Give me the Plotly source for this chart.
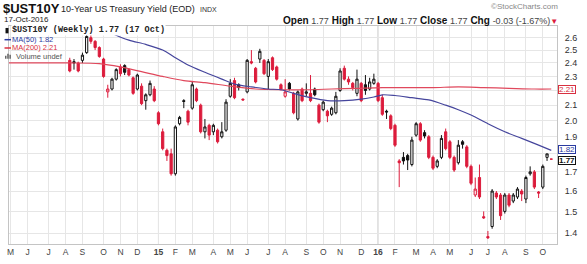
import plotly.graph_objects as go
import pandas as pd
import numpy as np

W, H = 587, 264
ML, MR, MT, MB = 7, 30, 26, 15
PW, PH = W - ML - MR, H - MT - MB

# ---------------- data (weekly bars) ----------------
first_bar = "2014-08-11"
opens = [2.42, 2.41, 2.40, 2.42, 2.48, 2.60, 2.57, 2.52, 2.43, 2.19,
         2.21, 2.28, 2.37, 2.38, 2.35, 2.29, 2.21, 2.23, 2.13, 2.17,
         2.21, 2.05, 1.93, 1.82, 1.80, 1.69, 1.98, 2.13, 2.06, 2.08,
         2.21, 2.10, 1.93, 1.97, 1.93, 1.94, 1.90, 1.94, 2.16, 2.27,
         2.24, 2.14, 2.19, 2.41, 2.36, 2.43, 2.42, 2.30, 2.44, 2.37,
         2.24, 2.16, 2.25, 2.18, 2.01, 2.21, 2.18, 2.18, 2.21, 2.10,
         2.07, 2.06, 2.04, 2.05, 2.20, 2.36, 2.28, 2.25, 2.18, 2.25,
         2.24, 2.21, 2.25, 2.25, 2.15, 2.06, 2.03, 1.97, 1.76, 1.78,
         1.79, 1.74, 1.91, 1.98, 1.925, 1.90, 1.78, 1.73, 1.78, 1.93,
         1.87, 1.78, 1.75, 1.87, 1.84, 1.73, 1.58, 1.67, 1.475, 1.385,
         1.43, 1.59, 1.58, 1.50, 1.58, 1.55, 1.57, 1.60, 1.56, 1.69,
         1.70, 1.595, 1.62, 1.78, 1.77]
highs = [2.44, 2.43, 2.41, 2.48, 2.63, 2.64, 2.58, 2.53, 2.44, 2.24,
         2.29, 2.36, 2.39, 2.39, 2.36, 2.30, 2.32, 2.25, 2.18, 2.27,
         2.23, 2.06, 1.95, 1.83, 1.83, 1.97, 2.03, 2.14, 2.07, 2.26,
         2.22, 2.11, 2.01, 1.98, 1.98, 1.95, 1.99, 2.14, 2.28, 2.29,
         2.25, 2.145, 2.43, 2.50, 2.37, 2.51, 2.43, 2.43, 2.45, 2.38,
         2.25, 2.28, 2.26, 2.19, 2.20, 2.22, 2.25, 2.31, 2.22, 2.11,
         2.13, 2.07, 2.09, 2.19, 2.36, 2.38, 2.30, 2.26, 2.35, 2.26,
         2.31, 2.29, 2.32, 2.26, 2.17, 2.07, 2.04, 1.98, 1.77, 1.81,
         1.80, 1.90, 1.99, 1.99, 1.94, 1.91, 1.79, 1.77, 1.91, 1.95,
         1.88, 1.79, 1.88, 1.88, 1.85, 1.74, 1.67, 1.74, 1.50, 1.41,
         1.61, 1.60, 1.59, 1.59, 1.59, 1.59, 1.62, 1.61, 1.68, 1.73,
         1.71, 1.60, 1.74, 1.80, 1.77]
lows = [2.33, 2.35, 2.33, 2.40, 2.47, 2.55, 2.50, 2.44, 2.29, 2.15,
        2.20, 2.27, 2.30, 2.31, 2.30, 2.17, 2.20, 2.10, 2.07, 2.16,
        2.12, 1.97, 1.82, 1.76, 1.68, 1.68, 1.97, 2.08, 1.97, 2.07,
        2.12, 1.92, 1.89, 1.88, 1.91, 1.86, 1.89, 1.93, 2.15, 2.14,
        2.20, 2.13, 2.18, 2.39, 2.25, 2.40, 2.31, 2.21, 2.34, 2.27,
        2.20, 2.15, 2.20, 2.04, 2.00, 2.12, 2.16, 2.12, 2.16, 1.98,
        2.06, 1.99, 2.03, 2.04, 2.19, 2.27, 2.24, 2.20, 2.16, 2.12,
        2.17, 2.20, 2.24, 2.12, 2.03, 2.01, 1.94, 1.84, 1.62, 1.74,
        1.71, 1.73, 1.90, 1.87, 1.89, 1.77, 1.71, 1.72, 1.77, 1.82,
        1.77, 1.70, 1.74, 1.83, 1.72, 1.63, 1.57, 1.56, 1.465, 1.375,
        1.42, 1.56, 1.46, 1.49, 1.52, 1.54, 1.56, 1.55, 1.54, 1.68,
        1.61, 1.565, 1.61, 1.76, 1.77]
closes = [2.34, 2.40, 2.34, 2.46, 2.61, 2.57, 2.52, 2.45, 2.30, 2.21,
          2.28, 2.35, 2.32, 2.33, 2.31, 2.18, 2.31, 2.11, 2.17, 2.25,
          2.13, 1.98, 1.83, 1.79, 1.69, 1.96, 2.02, 2.125, 1.99, 2.24,
          2.13, 1.93, 1.96, 1.91, 1.97, 1.87, 1.93, 2.12, 2.25, 2.15,
          2.22, 2.135, 2.42, 2.40, 2.26, 2.49, 2.32, 2.41, 2.35, 2.28,
          2.21, 2.19, 2.21, 2.05, 2.19, 2.13, 2.19, 2.13, 2.17, 1.99,
          2.12, 2.03, 2.08, 2.16, 2.34, 2.28, 2.26, 2.22, 2.28, 2.13,
          2.20, 2.26, 2.28, 2.13, 2.04, 2.055, 1.95, 1.85, 1.75, 1.76,
          1.765, 1.88, 1.98, 1.88, 1.905, 1.78, 1.72, 1.76, 1.89, 1.83,
          1.78, 1.71, 1.85, 1.855, 1.73, 1.64, 1.61, 1.57, 1.47, 1.38,
          1.60, 1.57, 1.48, 1.58, 1.53, 1.58, 1.61, 1.585, 1.67, 1.70,
          1.62, 1.59, 1.73, 1.80, 1.77]

ma50_dates = ["2014-10-06", "2014-10-20", "2014-11-17", "2014-12-15", "2015-01-12",
              "2015-02-02", "2015-02-23", "2015-03-23", "2015-04-20", "2015-05-11",
              "2015-06-08", "2015-07-06", "2015-07-27", "2015-08-17", "2015-09-14",
              "2015-10-12", "2015-11-09", "2015-12-07", "2015-12-28", "2016-01-11",
              "2016-02-01", "2016-02-29", "2016-03-28", "2016-04-25", "2016-05-16",
              "2016-06-06", "2016-07-04", "2016-08-01", "2016-08-29", "2016-09-26",
              "2016-10-17"]
ma50_vals = [2.67, 2.635, 2.58, 2.545, 2.50, 2.44, 2.385, 2.33, 2.28, 2.245,
             2.225, 2.21, 2.205, 2.18, 2.15, 2.13, 2.13, 2.14, 2.155, 2.17,
             2.165, 2.15, 2.135, 2.10, 2.07, 2.035, 1.98, 1.93, 1.89, 1.85, 1.82]

ma200_dates = ["2014-05-02", "2014-06-23", "2014-08-11", "2014-09-29", "2014-11-03",
               "2014-12-08", "2015-01-12", "2015-02-16", "2015-03-23", "2015-05-04",
               "2015-06-15", "2015-07-27", "2015-09-07", "2015-10-19", "2015-11-30",
               "2016-01-11", "2016-02-22", "2016-04-04", "2016-05-16", "2016-06-27",
               "2016-08-08", "2016-09-19", "2016-10-17"]
ma200_vals = [2.40, 2.40, 2.40, 2.395, 2.37, 2.335, 2.30, 2.27, 2.255, 2.23,
              2.21, 2.205, 2.205, 2.21, 2.215, 2.22, 2.22, 2.22, 2.225, 2.22,
              2.215, 2.21, 2.21]

month_labels = ["M", "J", "J", "A", "S", "O", "N", "D", "15", "F", "M", "A",
                "M", "J", "J", "A", "S", "O", "N", "D", "16", "F", "M", "A",
                "M", "J", "J", "A", "S", "O"]
y_ticks = [1.4, 1.5, 1.6, 1.7, 1.8, 1.9, 2.0, 2.1, 2.2, 2.3, 2.4, 2.5, 2.6]
y_tick_labels = ["1.4", "1.5", "1.6", "1.7", "", "1.9", "2.0", "2.1", "", "2.3", "2.4", "2.5", "2.6"]

# ---------------- derived ----------------
dates = pd.date_range(first_bar, periods=len(closes), freq="7D")
prev = [opens[0]] + closes[:-1]
is_red = [c < p for c, p in zip(closes, prev)]
tick_dates = pd.date_range("2014-05-01", "2016-10-31", freq="WOM-1MON")
tick_text = [f"<b>{t}</b>" if t.isdigit() else t for t in month_labels]

RED = "#dc1c3c"
BLK = "#111111"

fig = go.Figure()
for flag, col in [(False, BLK), (True, RED)]:
    idx = [i for i in range(len(closes)) if is_red[i] == flag]
    fig.add_trace(go.Candlestick(
        x=[dates[i] for i in idx],
        open=[opens[i] for i in idx], high=[highs[i] for i in idx],
        low=[lows[i] for i in idx], close=[closes[i] for i in idx],
        increasing=dict(line=dict(color=col, width=1), fillcolor="white"),
        decreasing=dict(line=dict(color=col, width=1), fillcolor=col),
        whiskerwidth=0, showlegend=False, hoverinfo="skip"))

fig.add_trace(go.Scatter(x=pd.to_datetime(ma200_dates), y=ma200_vals, mode="lines",
                         line=dict(color="#e0485c", width=1.2, shape="spline", smoothing=0.8),
                         showlegend=False, hoverinfo="skip"))
fig.add_trace(go.Scatter(x=pd.to_datetime(ma50_dates), y=ma50_vals, mode="lines",
                         line=dict(color="#45459c", width=1.2, shape="spline", smoothing=0.8),
                         showlegend=False, hoverinfo="skip"))


def px(xp):
    return (xp - ML) / PW


def py(yp):
    return (H - MB - yp) / PH


shapes = []
for d, t in zip(tick_dates, month_labels):
    if t.isdigit():
        shapes.append(dict(type="line", xref="x", yref="paper", x0=d, x1=d, y0=0, y1=1,
                           line=dict(color="#b8b8b8", width=1), layer="below"))

annotations = []


def note(text, xp, yp, size, color="#222", anchor="left", family="Liberation Sans", bg=None):
    a = dict(text=text, xref="paper", yref="paper", x=px(xp), y=py(yp), xanchor=anchor,
             yanchor="middle", showarrow=False, borderpad=0,
             font=dict(size=size, color=color, family=family))
    if bg:
        a["bgcolor"] = bg
    annotations.append(a)


note("<b>$UST10Y</b>", 0, 8, 13, "#111")
note("10-Year US Treasury Yield (EOD)", 58, 8.5, 9, "#222")
note("INDX", 198, 9, 7, "#333")
note("17-Oct-2016", 1, 19, 8, "#222")
note("©StockCharts.com", 559, 6, 8, "#888", anchor="right")
v = '<span style="font-size:9px;color:#444">'
note(f"<b>Open</b> {v}1.77</span> <b>High</b> {v}1.77</span> <b>Low</b> {v}1.77</span> "
     f"<b>Close</b> {v}1.77</span> <b>Chg</b> {v}-0.03 (-1.67%)</span>"
     f'<span style="color:{RED};font-size:8px">▼</span>', 559, 20, 10, "#111", anchor="right")

# legend rows
ROWS = [30.5, 40, 48.5, 57]
note("<b>$UST10Y (Weekly) 1.77 (17 Oct)</b>", 9, ROWS[0], 8.5, "#222", family="Liberation Mono",
     bg="white")
note("MA(50) 1.82", 9.5, ROWS[1], 7.5, "#2b3aa0")
note("MA(200) 2.21", 9.5, ROWS[2], 7.5, "#d83040")
note("Volume undef", 13, ROWS[3], 7.5, "#555")

# legend icons
shapes.append(dict(type="rect", xref="paper", yref="paper", x0=px(3.5), x1=px(6.5),
                   y0=py(ROWS[0] + 3), y1=py(ROWS[0] - 2.5), fillcolor="#111", line=dict(width=0)))
shapes.append(dict(type="line", xref="paper", yref="paper", x0=px(2.5), x1=px(9),
                   y0=py(ROWS[1]), y1=py(ROWS[1]), line=dict(color="#2b3aa0", width=1.5)))
shapes.append(dict(type="line", xref="paper", yref="paper", x0=px(2.5), x1=px(9),
                   y0=py(ROWS[2]), y1=py(ROWS[2]), line=dict(color="#d83040", width=1.5)))
for k, hb in enumerate([3, 5, 4]):
    shapes.append(dict(type="rect", xref="paper", yref="paper", x0=px(3 + 2.2 * k), x1=px(4.5 + 2.2 * k),
                       y0=py(ROWS[3] + 2.5), y1=py(ROWS[3] + 2.5 - hb), fillcolor="#666",
                       line=dict(width=0)))

# last-value boxes on the right axis
for val, col, bold, shift in [(ma200_vals[-1], "#d83040", False, 0),
                              (ma50_vals[-1], "#2b3aa0", False, 1),
                              (closes[-1], "#111", True, -1)]:
    txt = f"{val:.2f}"
    annotations.append(dict(text=f"<b>{txt}</b>" if bold else txt, xref="paper", yref="y",
                            x=1, y=np.log10(val), xanchor="left", yanchor="middle", xshift=1,
                            yshift=shift, showarrow=False, bgcolor="white", bordercolor=col,
                            borderwidth=1, borderpad=0, height=7,
                            font=dict(size=8, color=col, family="Liberation Sans")))

fig.update_layout(
    width=W, height=H, margin=dict(l=ML, r=MR, t=MT, b=MB),
    paper_bgcolor="white", plot_bgcolor="white",
    shapes=shapes, annotations=annotations,
    font=dict(family="Liberation Sans", size=9, color="#333"),
    xaxis=dict(type="date", range=["2014-05-02 07:00", "2016-10-26 12:00"],
               tickmode="array", tickvals=tick_dates, ticktext=tick_text,
               showgrid=True, gridcolor="#e6e6e6", gridwidth=1,
               showline=True, linecolor="#c4c4c4", mirror=True, ticks="",
               tickfont=dict(size=8.5, color="#444"), rangeslider=dict(visible=False),
               zeroline=False),
    yaxis=dict(type="log", range=[np.log10(1.353), np.log10(2.698)], side="right",
               tickmode="array", tickvals=y_ticks, ticktext=y_tick_labels,
               showgrid=True, gridcolor="#e6e6e6", gridwidth=1,
               showline=True, linecolor="#c4c4c4", mirror=True, ticks="",
               ticklabelstandoff=5, tickfont=dict(size=9, color="#333"), zeroline=False),
    boxgap=0.25,
)

fig.write_html("out.html")
